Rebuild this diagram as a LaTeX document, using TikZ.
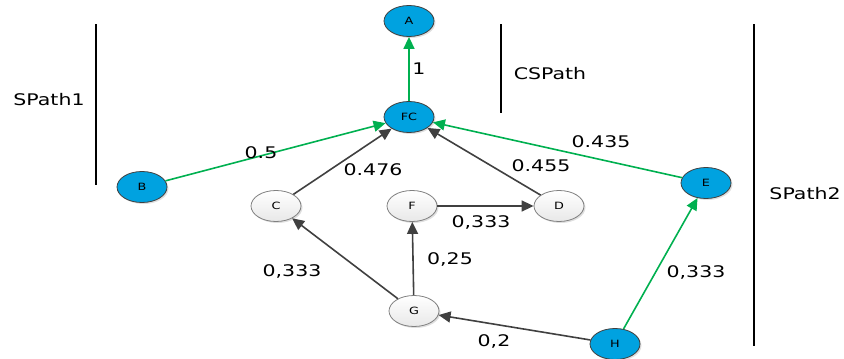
\documentclass[tikz,border=0pt]{standalone}
\usepackage{fontspec}
\setmainfont{DejaVu Sans}[FakeStretch=1.28]
\usetikzlibrary{shapes.geometric,arrows.meta,shadows}
\definecolor{nodeblue}{HTML}{00A2E0}
\definecolor{edgegreen}{HTML}{00B050}
\definecolor{edgegrey}{HTML}{404040}
\tikzset{
  bnode/.style={ellipse, draw=edgegrey, line width=0.8pt, fill=nodeblue, minimum width=50pt, minimum height=31pt, inner sep=0pt, font=\fontsize{10}{10}\selectfont, drop shadow={shadow xshift=1.5pt, shadow yshift=-1.5pt, opacity=0.25}},
  wnode/.style={ellipse, draw=gray, line width=0.8pt, top color=white, bottom color=gray!18, minimum width=50pt, minimum height=31pt, inner sep=0pt, font=\fontsize{10}{10}\selectfont, drop shadow={shadow xshift=1.5pt, shadow yshift=-1.5pt, opacity=0.25}},
  gedge/.style={draw=edgegreen, line width=1.6pt, -{Triangle[length=12pt,width=11pt]}},
  dedge/.style={draw=edgegrey, line width=1.6pt, -{Triangle[length=12pt,width=11pt]}},
  lbl/.style={font=\fontsize{16}{16}\selectfont, inner sep=0pt},
  bar/.style={line width=1.6pt}
}
\begin{document}
\begin{tikzpicture}[x=1pt,y=-1pt]
  \useasboundingbox (0,0) rectangle (844,359);
  % dividers
  \draw[bar] (96,24) -- (96,185);
  \draw[bar] (501,24) -- (501,113);
  \draw[bar] (754,24) -- (754,346);
  \node[lbl] (sp1) at (49,100) {SPath1};
  \node[lbl] (csp) at (550,74) {CSPath};
  \node[lbl] (sp2) at (805,194) {SPath2};

  % nodes
  \node[bnode] (A) at (409,21) {A};
  \node[bnode] (FC) at (409,117) {FC};
  \node[bnode] (B) at (142,187) {B};
  \node[bnode] (E) at (706,183) {E};
  \node[bnode] (H) at (615,344) {H};
  \node[wnode] (C) at (276,206) {C};
  \node[wnode] (F) at (412,206) {F};
  \node[wnode] (D) at (559,206) {D};
  \node[wnode] (G) at (414,311) {G};

  % edges
  \draw[gedge] (FC) -- (A);
  \draw[gedge] (B) -- (FC);
  \draw[gedge] (E) -- (FC);
  \draw[gedge] (H) -- (E);
  \draw[dedge] (C) -- (FC);
  \draw[dedge] (D) -- (FC);
  \draw[dedge] (F) -- (D);
  \draw[dedge] (G) -- (F);
  \draw[dedge] (G) -- (C);
  \draw[dedge] (H) -- (G);

  % weights
  \node[lbl] (wA) at (419,69) {1};
  \node[lbl] (wB) at (261,153) {0.5};
  \node[lbl] (wC) at (373,170) {0.476};
  \node[lbl] (wD) at (541,166) {0.455};
  \node[lbl] (wE) at (601,142) {0.435};
  \node[lbl] (wF) at (481,222) {0,333};
  \node[lbl] (wGF) at (450,259) {0,25};
  \node[lbl] (wGC) at (292,271) {0,333};
  \node[lbl] (wH) at (494,341) {0,2};
  \node[lbl] (wHE) at (696,272) {0,333};
\end{tikzpicture}
\end{document}
